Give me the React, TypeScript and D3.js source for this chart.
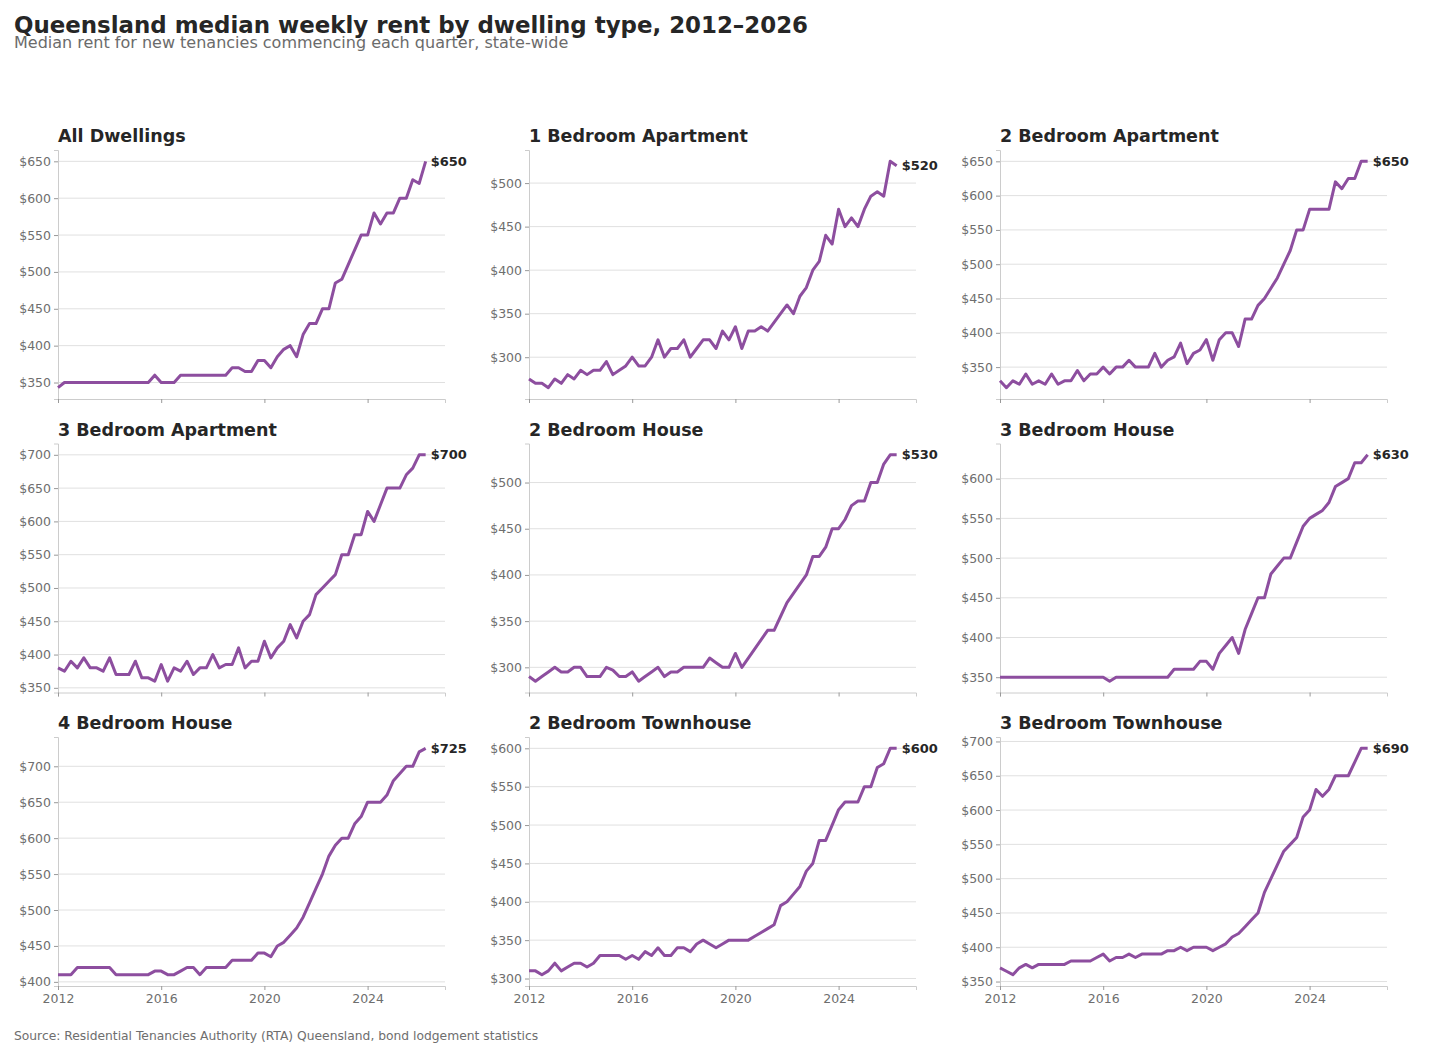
import React, { useRef, useEffect } from 'react';
import * as d3 from 'd3';

// quarterly observations, Q1 2012 .. Q2 2026
const startYear = 2012;
const quarterCount = 58;
const quarters = d3.range(quarterCount).map((i) => startYear + i / 4);

const allDwellings = [
    343, 350, 350, 350, 350, 350, 350, 350, 350, 350, 350, 350, 350, 350, 350, 360,
    350, 350, 350, 360, 360, 360, 360, 360, 360, 360, 360, 370, 370, 365, 365, 380,
    380, 370, 385, 395, 400, 385, 415, 430, 430, 450, 450, 485, 490, 510, 530, 550,
    550, 580, 565, 580, 580, 600, 600, 625, 620, 650,
];
const oneBedApartment = [
    275, 270, 270, 265, 275, 270, 280, 275, 285, 280, 285, 285, 295, 280, 285, 290,
    300, 290, 290, 300, 320, 300, 310, 310, 320, 300, 310, 320, 320, 310, 330, 320,
    335, 310, 330, 330, 335, 330, 340, 350, 360, 350, 370, 380, 400, 410, 440, 430,
    470, 450, 460, 450, 470, 485, 490, 485, 525, 520,
];
const twoBedApartment = [
    330, 320, 330, 325, 340, 325, 330, 325, 340, 325, 330, 330, 345, 330, 340, 340,
    350, 340, 350, 350, 360, 350, 350, 350, 370, 350, 360, 365, 385, 355, 370, 375,
    390, 360, 390, 400, 400, 380, 420, 420, 440, 450, 465, 480, 500, 520, 550, 550,
    580, 580, 580, 580, 620, 610, 625, 625, 650, 650,
];
const threeBedApartment = [
    380, 375, 390, 380, 395, 380, 380, 375, 395, 370, 370, 370, 390, 365, 365, 360,
    385, 360, 380, 375, 390, 370, 380, 380, 400, 380, 385, 385, 410, 380, 390, 390,
    420, 395, 410, 420, 445, 425, 450, 460, 490, 500, 510, 520, 550, 550, 580, 580,
    615, 600, 625, 650, 650, 650, 670, 680, 700, 700,
];
const twoBedHouse = [
    290, 285, 290, 295, 300, 295, 295, 300, 300, 290, 290, 290, 300, 297, 290, 290,
    295, 285, 290, 295, 300, 290, 295, 295, 300, 300, 300, 300, 310, 305, 300, 300,
    315, 300, 310, 320, 330, 340, 340, 355, 370, 380, 390, 400, 420, 420, 430, 450,
    450, 460, 475, 480, 480, 500, 500, 520, 530, 530,
];
const threeBedHouse = [
    350, 350, 350, 350, 350, 350, 350, 350, 350, 350, 350, 350, 350, 350, 350, 350,
    350, 345, 350, 350, 350, 350, 350, 350, 350, 350, 350, 360, 360, 360, 360, 370,
    370, 360, 380, 390, 400, 380, 410, 430, 450, 450, 480, 490, 500, 500, 520, 540,
    550, 555, 560, 570, 590, 595, 600, 620, 620, 630,
];
const fourBedHouse = [
    410, 410, 410, 420, 420, 420, 420, 420, 420, 410, 410, 410, 410, 410, 410, 415,
    415, 410, 410, 415, 420, 420, 410, 420, 420, 420, 420, 430, 430, 430, 430, 440,
    440, 435, 450, 455, 465, 475, 490, 510, 530, 550, 575, 590, 600, 600, 620, 630,
    650, 650, 650, 660, 680, 690, 700, 700, 720, 725,
];
const twoBedTownhouse = [
    310, 310, 305, 310, 320, 310, 315, 320, 320, 315, 320, 330, 330, 330, 330, 325,
    330, 325, 335, 330, 340, 330, 330, 340, 340, 335, 345, 350, 345, 340, 345, 350,
    350, 350, 350, 355, 360, 365, 370, 395, 400, 410, 420, 440, 450, 480, 480, 500,
    520, 530, 530, 530, 550, 550, 575, 580, 600, 600,
];
const threeBedTownhouse = [
    370, 365, 360, 370, 375, 370, 375, 375, 375, 375, 375, 380, 380, 380, 380, 385,
    390, 380, 385, 385, 390, 385, 390, 390, 390, 390, 395, 395, 400, 395, 400, 400,
    400, 395, 400, 405, 415, 420, 430, 440, 450, 480, 500, 520, 540, 550, 560, 590,
    600, 630, 620, 630, 650, 650, 650, 670, 690, 690,
];

const panelTitles = [
    'All Dwellings', '1 Bedroom Apartment', '2 Bedroom Apartment',
    '3 Bedroom Apartment', '2 Bedroom House', '3 Bedroom House',
    '4 Bedroom House', '2 Bedroom Townhouse', '3 Bedroom Townhouse',
];
const panelSeries = [
    allDwellings, oneBedApartment, twoBedApartment,
    threeBedApartment, twoBedHouse, threeBedHouse,
    fourBedHouse, twoBedTownhouse, threeBedTownhouse,
];
const yearTicks = [2012, 2016, 2020, 2024];

const FONT = "'DejaVu Sans', sans-serif";
const LINE_COLOR = '#8d4e9f';

const App: React.FC = () => {
    const d3Container = useRef<SVGSVGElement | null>(null);

    useEffect(() => {
        document.body.style.margin = '0';
        if (!d3Container.current) return;

        const width = 1430;
        const height = 1045;
        const plotW = 387;
        const plotH = 249;
        const colStep = 471;
        const rowStep = 293.5;
        const left0 = 58;
        const top0 = 150;

        const svg = d3.select(d3Container.current);
        svg.selectAll('*').remove();
        svg.attr('width', width).attr('height', height).style('background', '#fff');

        // header
        svg.append('text')
            .attr('x', 14).attr('y', 33)
            .attr('font-family', FONT).attr('font-size', 22.9).attr('font-weight', 'bold')
            .attr('fill', '#262626')
            .text('Queensland median weekly rent by dwelling type, 2012–2026');
        svg.append('text')
            .attr('x', 14).attr('y', 47.5)
            .attr('font-family', FONT).attr('font-size', 16)
            .attr('fill', '#6b6b6b')
            .text('Median rent for new tenancies commencing each quarter, state-wide');

        const x = d3.scaleLinear().domain([2012, 2027]).range([0, plotW]);

        panelSeries.forEach((values, i) => {
            const col = i % 3;
            const row = Math.floor(i / 3);
            const g = svg.append('g')
                .attr('transform', `translate(${left0 + col * colStep},${top0 + row * rowStep})`);

            const lo = d3.min(values) as number;
            const hi = d3.max(values) as number;
            const pad = (hi - lo) * 0.05;
            const y = d3.scaleLinear().domain([lo - pad, hi + pad]).range([plotH, 0]);
            const yTicks = y.ticks(6).filter((t) => t >= lo - pad && t <= hi + pad);

            // gridlines
            g.selectAll('line.grid')
                .data(yTicks)
                .join('line')
                .attr('class', 'grid')
                .attr('x1', 0).attr('x2', plotW)
                .attr('y1', (d) => y(d)).attr('y2', (d) => y(d))
                .attr('stroke', '#e0e0e0').attr('stroke-width', 1);

            // y axis
            const yAxis = g.append('g')
                .call(d3.axisLeft(y).tickValues(yTicks).tickSize(4).tickPadding(3)
                    .tickFormat((d) => `$${d}`));
            yAxis.select('.domain').attr('stroke', '#cccccc');
            yAxis.selectAll('.tick line').attr('stroke', '#999999');
            yAxis.selectAll('.tick text')
                .attr('font-family', FONT).attr('font-size', 12.5).attr('fill', '#6e6e6e');

            // x axis
            const xAxis = g.append('g')
                .attr('transform', `translate(0,${plotH})`)
                .call(d3.axisBottom(x).tickValues(yearTicks).tickSize(4).tickPadding(4)
                    .tickFormat((d) => (row === 2 ? String(d) : '')));
            xAxis.select('.domain').attr('stroke', '#cccccc');
            xAxis.selectAll('.tick line').attr('stroke', '#999999');
            xAxis.selectAll('.tick text')
                .attr('font-family', FONT).attr('font-size', 12.5).attr('fill', '#6e6e6e');

            // series line
            const line = d3.line<number>()
                .x((_, j) => x(quarters[j]))
                .y((d) => y(d));
            g.append('path')
                .datum(values)
                .attr('d', line)
                .attr('fill', 'none')
                .attr('stroke', LINE_COLOR)
                .attr('stroke-width', 3)
                .attr('stroke-linejoin', 'round');

            // end label
            const last = values[values.length - 1];
            g.append('text')
                .attr('x', x(quarters[values.length - 1]) + 5)
                .attr('y', y(last))
                .attr('dy', '0.35em')
                .attr('font-family', FONT).attr('font-size', 13).attr('font-weight', 'bold')
                .attr('fill', '#262626')
                .text(`$${last}`);

            // panel title
            g.append('text')
                .attr('x', 0).attr('y', -8)
                .attr('font-family', FONT).attr('font-size', 17.5).attr('font-weight', 'bold')
                .attr('fill', '#262626')
                .text(panelTitles[i]);
        });

        svg.append('text')
            .attr('x', 14).attr('y', 1040)
            .attr('font-family', FONT).attr('font-size', 12.3)
            .attr('fill', '#6e6e6e')
            .text('Source: Residential Tenancies Authority (RTA) Queensland, bond lodgement statistics');
    }, []);

    return (
        <div>
            <svg ref={d3Container} />
        </div>
    );
};

export default App;
